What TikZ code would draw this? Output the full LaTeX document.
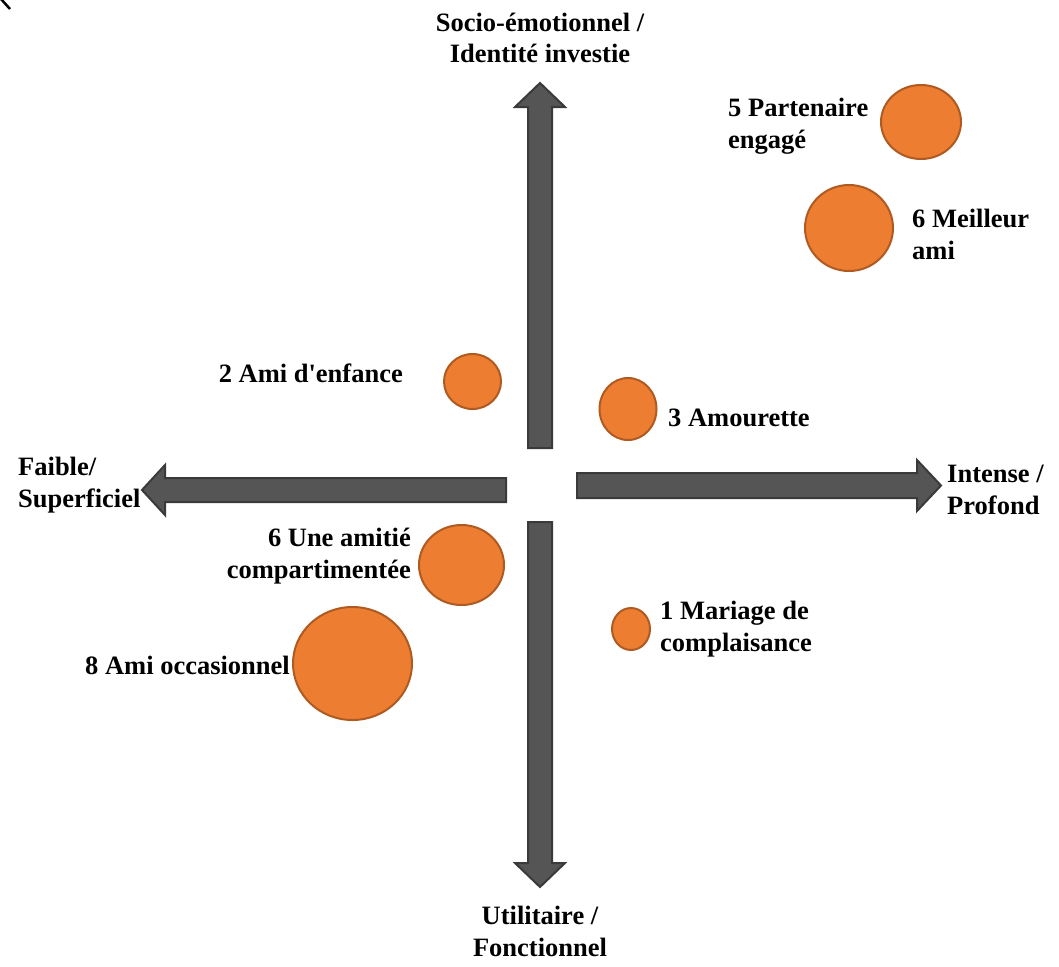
\documentclass[tikz,border=0pt]{standalone}
\usepackage{fontspec}
\setmainfont{Liberation Serif}
\usepackage{xcolor}
\usetikzlibrary{shapes.geometric, positioning}

\definecolor{arrowfill}{RGB}{85,85,85}
\definecolor{arrowline}{RGB}{58,58,58}
\definecolor{bubblefill}{RGB}{237,125,49}
\definecolor{bubbleline}{RGB}{174,90,33}

\begin{document}
\begin{tikzpicture}[x=1pt, y=-1pt,
    axisarrow/.style={fill=arrowfill, draw=arrowline, line width=2pt, line join=miter},
    bubble/.style={ellipse, fill=bubblefill, draw=bubbleline, line width=2pt, inner sep=0pt},
    lbl/.style={font=\fontsize{26.5}{31.5}\selectfont\bfseries, inner sep=0pt}]
        \useasboundingbox (0,0) rectangle (1059,966);
        \draw[line width=2.5pt] (1,-1) -- (10,9);

        % axes
        \draw[axisarrow] (528,448) -- (528,107) -- (515,107) -- (540,83) -- (565,107) -- (552,107) -- (552,448) -- cycle;
        \draw[axisarrow] (528,522) -- (528,863) -- (515,863) -- (540,887) -- (565,863) -- (552,863) -- (552,522) -- cycle;
        \draw[axisarrow] (506,478) -- (165,478) -- (165,465) -- (142,490) -- (165,515) -- (165,502) -- (506,502) -- cycle;
        \draw[axisarrow] (577,473) -- (917,473) -- (917,460) -- (941,485.5) -- (917,511) -- (917,498) -- (577,498) -- cycle;

        % base = last line
        \node[lbl, anchor=base, align=center] (top)    at (540,63)  {Socio-émotionnel /\\Identité investie};
        \node[lbl, anchor=base, align=center] (bottom) at (540,956) {Utilitaire /\\Fonctionnel};
        \node[lbl, anchor=base west, align=left] (left)  at (18,507)  {Faible/\\Superficiel};
        \node[lbl, anchor=base west, align=left] (right) at (947,514) {Intense /\\Profond};

        % bubbles
        \node[bubble, minimum width=80, minimum height=74]  (b5) at (921,122) {};
        \node[bubble, minimum width=88, minimum height=86]  (b6) at (849,228) {};
        \node[bubble, minimum width=57, minimum height=55]  (b2) at (472.5,381.5) {};
        \node[bubble, minimum width=57, minimum height=62]  (b3) at (628,409) {};
        \node[bubble, minimum width=85, minimum height=80]  (b6u) at (461.5,565) {};
        \node[bubble, minimum width=119, minimum height=113] (b8) at (352.5,663.5) {};
        \node[bubble, minimum width=38, minimum height=42]  (b1) at (631,629) {};

        \node[lbl, anchor=base west, align=left]  (t5)  at (728,148) {5 Partenaire\\engagé};
        \node[lbl, anchor=base west, align=left]  (t6)  at (912,259) {6 Meilleur\\ami};
        \node[lbl, anchor=base east]              (t2)  at (403,382) {2 Ami d\textquotesingle enfance};
        \node[lbl, anchor=base west]              (t3)  at (668,426) {3 Amourette};
        \node[lbl, anchor=base east, align=right] (t6u) at (411,578) {6 Une amitié\\compartimentée};
        \node[lbl, anchor=base east]              (t8)  at (290,674) {8 Ami occasionnel};
        \node[lbl, anchor=base west, align=left]  (t1)  at (660,651) {1 Mariage de\\complaisance};
\end{tikzpicture}
\end{document}
